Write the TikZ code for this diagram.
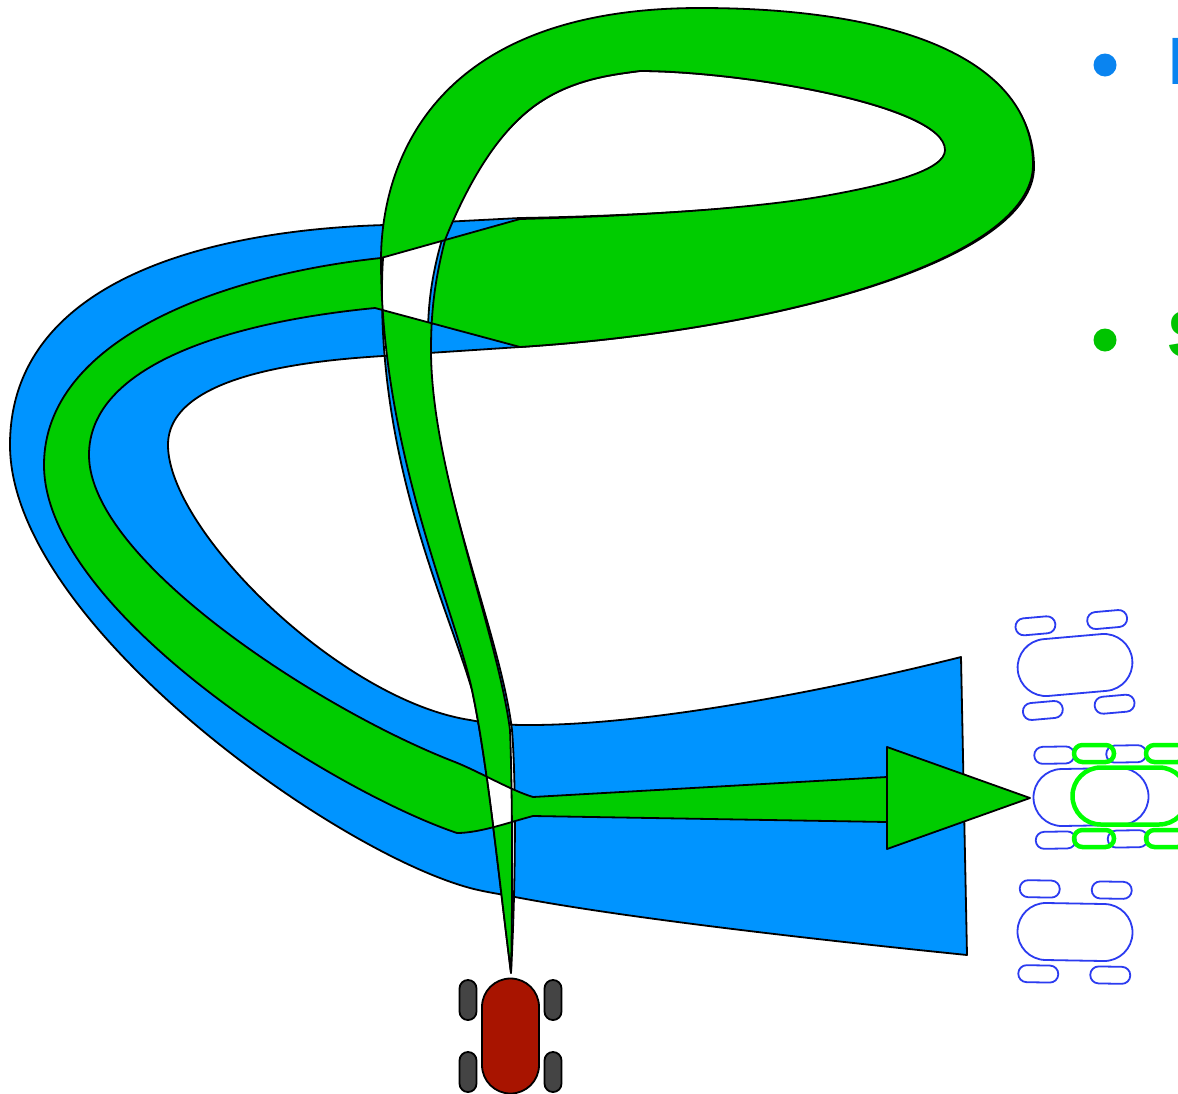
\documentclass[tikz,border=0pt]{standalone}
\usepackage{fontspec}
\setmainfont{Liberation Sans}
\definecolor{bandblue}{HTML}{0094FF}
\definecolor{bandgreen}{HTML}{00CC00}
\definecolor{carblue}{HTML}{2B3BF0}
\definecolor{carred}{HTML}{A81400}
\definecolor{wheelgrey}{HTML}{444444}
\definecolor{bulletblue}{HTML}{0A84F0}
\definecolor{bulletgreen}{HTML}{00C400}
\tikzset{
  band/.style={draw=black,line width=1.8pt,even odd rule,line join=round},
  carbody/.style={rounded corners=28.4pt},
  carwheel/.style={rounded corners=8.4pt},
  bigletter/.style={anchor=base west,inner sep=0pt,font=\bfseries\fontsize{67}{67}\selectfont},
  pics/vehicle/.style n args={2}{code={
    \foreach \wx in {-36,36}\foreach \wy in {-42.5,42.5}{
      \path[carwheel,#2] (\wx-20,\wy-8.5) rectangle (\wx+20,\wy+8.5);}
    \path[carbody,#1] (-57.5,-28.5) rectangle (57.5,28.5);
  }}
}
\begin{document}
\begin{tikzpicture}[x=1pt,y=-1pt]
\useasboundingbox (0,0) rectangle (1178,1093);
\fill[white] (0,0) rectangle (1178,1093);
% blue band
\path[band,fill=bandblue]
  (511,973) .. controls (498,870) and (487,760) .. (472,690)
  .. controls (447,605) and (381,470) .. (382,290)
  .. controls (382,190) and (409,10) .. (700,10)
  .. controls (900,10) and (1034,63) .. (1034,167)
  .. controls (1034,260) and (780,330) .. (520,347)
  -- (383,356)
  .. controls (320,360) and (168,372) .. (168,445)
  .. controls (168,530) and (340,700) .. (470,720)
  .. controls (490,724) and (505,725) .. (530,725)
  .. controls (650,725) and (830,690) .. (961,657)
  -- (967,955)
  .. controls (800,938) and (620,917) .. (515,897)
  .. controls (500,894) and (485,892) .. (470,888)
  .. controls (330,850) and (10,620) .. (10,445)
  .. controls (10,280) and (210,230) .. (385,225)
  -- (520,218)
  .. controls (640,216) and (760,208) .. (830,197)
  .. controls (892,187) and (947,174) .. (947,152)
  .. controls (947,105) and (740,71) .. (640,71)
  .. controls (610,75) and (560,80) .. (520,118)
  .. controls (490,146) and (460,190) .. (443,236)
  .. controls (433,270) and (428,300) .. (428,335)
  .. controls (428,470) and (500,630) .. (512,730)
  .. controls (516,780) and (516,880) .. (511,973)
  -- cycle;
% green band
\path[band,fill=bandgreen]
  (511,973) .. controls (498,870) and (487,760) .. (472,690)
  .. controls (455,610) and (381,450) .. (381,260)
  .. controls (381,190) and (410,8) .. (700,8)
  .. controls (900,8) and (1033,60) .. (1033,165)
  .. controls (1033,260) and (780,330) .. (520,347)
  -- (375,308)
  .. controls (230,322) and (89,365) .. (89,455)
  .. controls (89,560) and (320,710) .. (455,762)
  .. controls (480,772) and (510,790) .. (533,797)
  -- (887,777) -- (887,822) -- (533,816)
  .. controls (510,822) and (480,833) .. (457,833)
  .. controls (330,790) and (44,610) .. (44,465)
  .. controls (44,340) and (220,275) .. (381,258)
  -- (520,219)
  .. controls (640,216) and (760,208) .. (830,195)
  .. controls (890,184) and (945,170) .. (945,150)
  .. controls (945,105) and (740,71) .. (640,71)
  .. controls (610,75) and (560,80) .. (520,118)
  .. controls (490,146) and (465,190) .. (445,240)
  .. controls (435,280) and (431,310) .. (431,350)
  .. controls (431,470) and (497,630) .. (510,730)
  .. controls (512,780) and (513,880) .. (511,973)
  -- cycle;
\path[band,fill=bandgreen] (887,747) -- (1030,798) -- (887,849) -- cycle;
% vehicles
\pic[rotate=5] at (1075,665) {vehicle={draw=carblue,line width=1.8pt}{draw=carblue,line width=1.8pt}};
\pic[rotate=1] at (1091,797) {vehicle={draw=carblue,line width=1.8pt}{draw=carblue,line width=1.8pt}};
\pic[rotate=-1] at (1075,932) {vehicle={draw=carblue,line width=1.8pt}{draw=carblue,line width=1.8pt}};
\pic at (1130,796) {vehicle={draw=green,line width=4.5pt}{draw=green,line width=4.5pt}};
\pic[rotate=90] at (510.5,1036) {vehicle={draw=black,fill=carred,line width=1.8pt}{draw=black,fill=wheelgrey,line width=1.8pt}};
% bullets
\fill[bulletblue] (1105,65) circle (11.5);
\fill[bulletgreen] (1105,340) circle (11.5);
\node[bigletter,text=bulletblue] (ta) at (1168,84) {I};
\node[bigletter,text=bulletgreen] (tb) at (1167,357.5) {S};
\end{tikzpicture}
\end{document}
